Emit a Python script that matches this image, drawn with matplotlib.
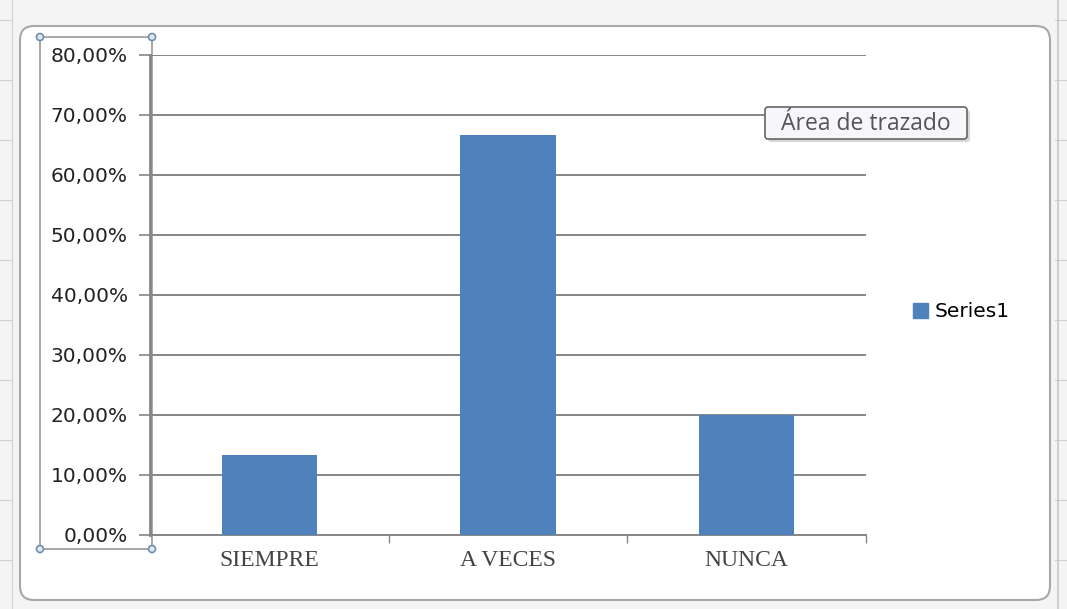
import matplotlib
matplotlib.use("Agg")
import matplotlib.pyplot as plt
from matplotlib.patches import FancyBboxPatch, Rectangle, Circle
from matplotlib.ticker import FuncFormatter

categories = ["SIEMPRE", "A VECES", "NUNCA"]
values = [13.33, 66.67, 20.00]
y_ticks = [0, 10, 20, 30, 40, 50, 60, 70, 80]
series_name = "Series1"
tooltip_text = "Área de trazado"

W, H = 1067, 609
fig = plt.figure(figsize=(W / 100, H / 100), dpi=100)
fig.patch.set_facecolor("white")

# sheet background with a few cell lines around the chart
bg = fig.add_axes([0, 0, 1, 1])
bg.set_xlim(0, W)
bg.set_ylim(H, 0)
bg.axis("off")
bg.add_patch(Rectangle((0, 0), W, H, facecolor="#f4f4f4", edgecolor="none"))
for yy in range(20, H, 60):
    bg.plot([0, 12], [yy, yy], color="#d0d0d0", lw=0.8)
    bg.plot([1055, W], [yy, yy], color="#d0d0d0", lw=0.8)
bg.plot([12, 12], [0, H], color="#d0d0d0", lw=0.8)
bg.plot([1058, 1058], [0, H], color="#c8c8c8", lw=1.2)
bg.add_patch(FancyBboxPatch((20, 26), 1030, 574, boxstyle="round,pad=0,rounding_size=14",
                            facecolor="white", edgecolor="#a8a8a8", lw=1.5))

# selection box around the value axis labels
bg.add_patch(Rectangle((40, 37), 112, 512, facecolor="none", edgecolor="#9a9a9a", lw=1.2))
for cx, cy in [(40, 37), (152, 37), (40, 549), (152, 549)]:
    bg.add_patch(Circle((cx, cy), 3.5, facecolor="#dde8f2", edgecolor="#6f8fae", lw=1.2))

# plot area
ax = fig.add_axes([150 / W, 1 - 535 / H, 716 / W, 480 / H])
x = range(len(categories))
ax.bar(x, values, width=0.4, color="#4f81bd", zorder=3)
ax.set_xlim(-0.5, len(categories) - 0.5)
ax.set_ylim(0, 80)
ax.set_yticks(y_ticks)
ax.yaxis.set_major_formatter(FuncFormatter(lambda v, p: f"{v:.2f}%".replace(".", ",")))
ax.grid(axis="y", color="#868686", lw=1.4, zorder=1)
ax.set_axisbelow(True)
ax.patch.set_alpha(0)
for s in ["top", "right"]:
    ax.spines[s].set_visible(False)
ax.spines["left"].set_color("#868686")
ax.spines["left"].set_linewidth(2)
ax.spines["bottom"].set_color("#868686")
ax.spines["bottom"].set_linewidth(1.4)
ax.tick_params(axis="y", length=8, width=1.2, color="#868686", labelsize=14.5,
               labelcolor="#222222", pad=8)
for t in ax.get_yticklabels():
    t.set_fontfamily("DejaVu Sans")

ax.set_xticks(list(x))
ax.set_xticklabels(categories, fontfamily="Liberation Serif", fontsize=17, color="#444444")
ax.tick_params(axis="x", length=0, pad=11)
# category boundary ticks
ax.set_xticks([0.5, 1.5, 2.5], minor=True)
ax.tick_params(axis="x", which="minor", length=6, width=1, color="#868686")

# legend
ax.legend([Rectangle((0, 0), 1, 1, color="#4f81bd")], [series_name],
          loc="center left", bbox_to_anchor=(1.04, 0.465), frameon=False,
          handlelength=0.75, handleheight=0.75, handletextpad=0.35,
          prop={"family": "DejaVu Sans", "size": 14.5})

# tooltip on top of everything
top = fig.add_axes([0, 0, 1, 1])
top.set_xlim(0, W)
top.set_ylim(H, 0)
top.axis("off")
top.patch.set_alpha(0)
top.add_patch(FancyBboxPatch((768, 110), 202, 32, boxstyle="round,pad=0,rounding_size=3",
                             facecolor="#b0b0b0", edgecolor="none", alpha=0.5))
top.add_patch(FancyBboxPatch((765, 107), 202, 32, boxstyle="round,pad=0,rounding_size=3",
                             facecolor="#f7f7fb", edgecolor="#666666", lw=1.2))
top.text(866, 124, tooltip_text, ha="center", va="center", fontsize=16.5,
         fontfamily="Open Sans", color="#555555")

fig.savefig("out.png", dpi=100)
